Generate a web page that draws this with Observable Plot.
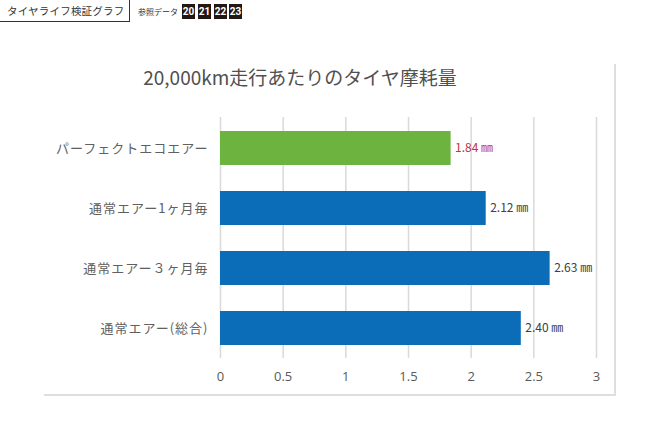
<!DOCTYPE html>
<html>
<head>
<meta charset="utf-8">
<script src="https://cdn.jsdelivr.net/npm/d3@7"></script>
<script src="https://cdn.jsdelivr.net/npm/@observablehq/plot@0.6"></script>
<style>
  html, body { margin: 0; padding: 0; background: #fff; }
  #wrap { position: relative; width: 650px; height: 437px; overflow: hidden; font-family: "Noto Sans CJK JP", sans-serif; }
  #chart { position: absolute; left: 0; top: 0; }
  .tab { position: absolute; left: -1px; top: -1px; width: 131px; height: 23px; border: 1px solid #333; box-sizing: border-box;
         font-size: 10.5px; letter-spacing: 0.2px; color: #333; line-height: 22px; padding-left: 7px; }
  .ref { position: absolute; left: 138px; top: 5px; font-size: 8px; color: #333; line-height: 14px; }
  .yr { position: absolute; top: 4px; width: 13px; height: 15px; background: #231815; color: #fff; font-weight: bold;
        font-family: "Liberation Sans Narrow", "Roboto", sans-serif; font-size: 10px; line-height: 15px; text-align: center; }
  .title { position: absolute; left: 0; width: 600px; top: 63px; text-align: center; font-size: 19px; color: #505050;
           font-family: "Noto Sans CJK JP", sans-serif; line-height: 28px; }
  .edgeR { position: absolute; left: 614px; top: 64px; width: 2px; height: 332px; background: #dedede; }
  .edgeB { position: absolute; left: 44px; top: 394px; width: 572px; height: 2px; background: #dedede; }
  #chart svg g[aria-label="y-axis tick label"] text { letter-spacing: 1px; }
</style>
</head>
<body>
<div id="wrap">
  <div id="chart"></div>
  <div class="edgeR"></div>
  <div class="edgeB"></div>
  <div class="tab">タイヤライフ検証グラフ</div>
  <div class="ref">参照データ</div>
  <div id="years"></div>
  <div class="title">20,000km走行あたりのタイヤ摩耗量</div>
</div>
<script>
const categories = ["パーフェクトエコエアー", "通常エアー1ヶ月毎", "通常エアー３ヶ月毎", "通常エアー(総合)"];
const values = [1.84, 2.12, 2.63, 2.40];
const barColors = ["#6db33f", "#0b6db7", "#0b6db7", "#0b6db7"];
const labelColors = ["#c0353b", "#404040", "#404040", "#404040"];
const xTicks = [0, 0.5, 1, 1.5, 2, 2.5, 3];
const years = ["20", "21", "22", "23"];
const yearLeft = [182, 198, 214, 229];

const data = categories.map((name, i) => ({name, value: values[i], fill: barColors[i], lc: labelColors[i]}));

const yearsDiv = document.getElementById("years");
years.forEach((y, i) => {
  const d = document.createElement("div");
  d.className = "yr";
  d.style.left = yearLeft[i] + "px";
  d.textContent = y;
  yearsDiv.appendChild(d);
});

const chart = Plot.plot({
  width: 650,
  height: 437,
  marginTop: 117,
  marginBottom: 79,
  marginLeft: 220,
  marginRight: 54,
  style: {background: "transparent", overflow: "visible"},
  x: {domain: [0, 3], label: null},
  y: {domain: categories, paddingInner: 0.44, paddingOuter: 0.22, label: null},
  marks: [
    Plot.gridX(xTicks, {stroke: "#d9d9d9", strokeOpacity: 1, strokeWidth: 1.5}),
    Plot.barX(data, {x: "value", y: "name", fill: "fill"}),
    Plot.text(data, {x: "value", y: "name", text: d => d.value.toFixed(2) + " ㎜", dx: 4, textAnchor: "start",
      fill: "lc", fontSize: 12, fontFamily: "'Liberation Sans Narrow', 'Noto Sans CJK JP', sans-serif"}),
    Plot.axisX({ticks: xTicks, tickSize: 0, tickPadding: 13, tickFormat: d => String(d), label: null,
      fontSize: 13, fill: "#595959", fontFamily: "'Open Sans', sans-serif"}),
    Plot.axisY({tickSize: 0, tickPadding: 12, label: null, fontSize: 13, fill: "#606060",
      fontFamily: "'Noto Sans CJK JP', sans-serif"})
  ]
});
document.getElementById("chart").appendChild(chart);
</script>
</body>
</html>
